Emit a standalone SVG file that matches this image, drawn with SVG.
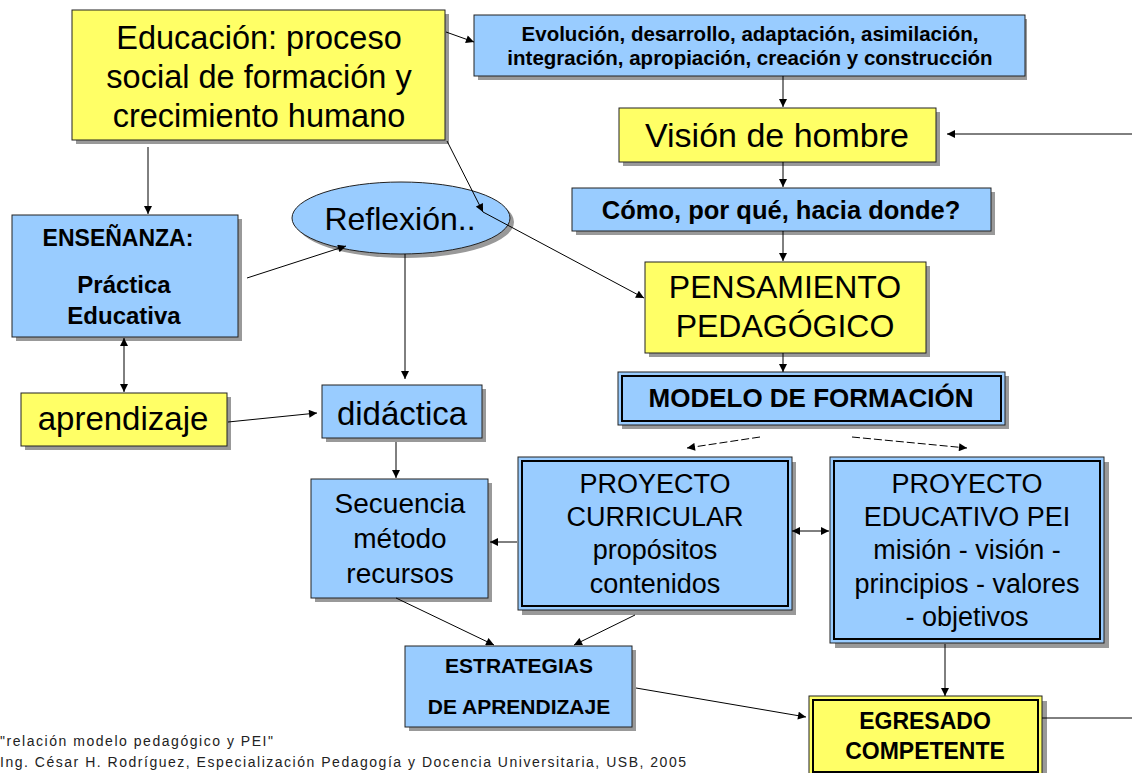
<svg xmlns="http://www.w3.org/2000/svg" width="1132" height="773" viewBox="0 0 1132 773">
<defs>
<style>
.blue{fill:#99CCFF;stroke:#222;stroke-width:1}
.yel{fill:#FFFF66;stroke:#222;stroke-width:1}
.sh{fill:#999}
.inner{fill:none;stroke:#000;stroke-width:2}
.t{font-family:"Liberation Sans",Arial,sans-serif;text-anchor:middle;fill:#000}
.b{font-weight:bold}
.c{stroke:#000;stroke-width:1;fill:none}
.d{stroke-dasharray:8 3}
.foot{font-family:"Liberation Sans",Arial,sans-serif;font-size:14px;fill:#222}
</style>
<marker id="ah" viewBox="0 0 10 10" refX="10" refY="5" markerWidth="9" markerHeight="8" markerUnits="userSpaceOnUse" orient="auto-start-reverse">
<path d="M0,0 L10,5 L0,10 z" fill="#000"/>
</marker>
</defs>
<rect width="1132" height="773" fill="#fff"/>

<g id="educacion">
<rect class="sh" x="76" y="14" width="373" height="130"/>
<rect class="yel" x="72" y="10" width="373" height="130"/>
<text class="t" font-size="32.5" x="259" y="49">Educación: proceso</text>
<text class="t" font-size="32.5" x="259" y="88">social de formación y</text>
<text class="t" font-size="32.5" x="259" y="127">crecimiento humano</text>
</g>

<g id="evolucion">
<rect class="sh" x="478" y="19" width="549" height="61"/>
<rect class="blue" x="474" y="15" width="551" height="61"/>
<text class="t b" font-size="20.5" x="750" y="41">Evolución, desarrollo, adaptación, asimilación,</text>
<text class="t b" font-size="20.5" x="750" y="65">integración, apropiación, creación y construcción</text>
</g>

<g id="vision">
<rect class="sh" x="623" y="112" width="317" height="54"/>
<rect class="yel" x="619" y="108" width="317" height="54"/>
<text class="t" font-size="34" x="777" y="147">Visión de hombre</text>
</g>

<g id="como">
<rect class="sh" x="576" y="192" width="419" height="43"/>
<rect class="blue" x="572" y="188" width="419" height="43"/>
<text class="t b" font-size="25.5" x="781" y="219">Cómo, por qué, hacia donde?</text>
</g>

<g id="pensamiento">
<rect class="sh" x="649" y="266" width="281" height="91"/>
<rect class="yel" x="645" y="262" width="281" height="91"/>
<text class="t" font-size="32" x="785" y="298">PENSAMIENTO</text>
<text class="t" font-size="32" x="785" y="337">PEDAGÓGICO</text>
</g>

<g id="modelo">
<rect class="sh" x="622" y="376" width="387" height="53"/>
<rect class="blue" x="618" y="372" width="387" height="53"/>
<rect class="inner" x="622" y="376" width="379" height="45"/>
<text class="t b" font-size="26" x="811" y="407">MODELO DE FORMACIÓN</text>
</g>

<g id="curricular">
<rect class="sh" x="522" y="462" width="274" height="153"/>
<rect class="blue" x="518" y="457" width="274" height="153"/>
<rect class="inner" x="522" y="461" width="266" height="145"/>
<text class="t" font-size="27" x="655" y="493">PROYECTO</text>
<text class="t" font-size="27" x="655" y="526">CURRICULAR</text>
<text class="t" font-size="27" x="655" y="559">propósitos</text>
<text class="t" font-size="27" x="655" y="593">contenidos</text>
</g>

<g id="pei">
<rect class="sh" x="835" y="462" width="274" height="186"/>
<rect class="blue" x="830" y="457" width="274" height="186"/>
<rect class="inner" x="834" y="461" width="266" height="178"/>
<text class="t" font-size="27" x="967" y="493">PROYECTO</text>
<text class="t" font-size="27" x="967" y="526">EDUCATIVO PEI</text>
<text class="t" font-size="27" x="967" y="559">misión - visión -</text>
<text class="t" font-size="27" x="967" y="593">principios - valores</text>
<text class="t" font-size="27" x="967" y="626">- objetivos</text>
</g>

<g id="egresado">
<rect class="sh" x="814" y="701" width="233" height="80"/>
<rect class="yel" x="809" y="696" width="233" height="80"/>
<rect class="inner" x="813" y="700" width="225" height="72"/>
<text class="t b" font-size="23" x="925" y="729">EGRESADO</text>
<text class="t b" font-size="23" x="925" y="759">COMPETENTE</text>
</g>

<g id="estrategias">
<rect class="sh" x="409" y="650" width="227" height="81"/>
<rect class="blue" x="405" y="646" width="227" height="81"/>
<text class="t b" font-size="21" x="519" y="673">ESTRATEGIAS</text>
<text class="t b" font-size="21" x="519" y="714">DE APRENDIZAJE</text>
</g>

<g id="secuencia">
<rect class="sh" x="315" y="483" width="177" height="119"/>
<rect class="blue" x="311" y="479" width="177" height="119"/>
<text class="t" font-size="28" x="400" y="513">Secuencia</text>
<text class="t" font-size="28" x="400" y="548">método</text>
<text class="t" font-size="28" x="400" y="583">recursos</text>
</g>

<g id="didactica">
<rect class="sh" x="326" y="389" width="160" height="53"/>
<rect class="blue" x="322" y="385" width="160" height="53"/>
<text class="t" font-size="33" x="402" y="425">didáctica</text>
</g>

<g id="aprendizaje">
<rect class="sh" x="25" y="397" width="206" height="53"/>
<rect class="yel" x="21" y="393" width="206" height="53"/>
<text class="t" font-size="33" x="123" y="430">aprendizaje</text>
</g>

<g id="ensenanza">
<rect class="sh" x="16" y="219" width="226" height="122"/>
<rect class="blue" x="12" y="215" width="226" height="122"/>
<text class="t b" font-size="23" x="118" y="246">ENSEÑANZA:</text>
<text class="t b" font-size="24" x="124" y="293">Práctica</text>
<text class="t b" font-size="24" x="124" y="324">Educativa</text>
</g>

<g id="reflexion">
<ellipse class="sh" cx="405" cy="222" rx="109" ry="36"/>
<ellipse class="blue" cx="401" cy="218" rx="109" ry="36"/>
<text class="t" font-size="32" x="400" y="230">Reflexión..</text>
</g>

<g id="connectors">
<line class="c" x1="446" y1="32" x2="474" y2="42" marker-end="url(#ah)"/>
<line class="c" x1="148" y1="147" x2="148" y2="214" marker-end="url(#ah)"/>
<line class="c" x1="447" y1="141" x2="483" y2="212" marker-end="url(#ah)"/>
<line class="c" x1="483" y1="212" x2="644" y2="298" marker-end="url(#ah)"/>
<line class="c" x1="247" y1="278" x2="346" y2="246" marker-end="url(#ah)"/>
<line class="c" x1="405" y1="254" x2="405" y2="379" marker-end="url(#ah)"/>
<line class="c" x1="124" y1="338" x2="124" y2="392" marker-start="url(#ah)" marker-end="url(#ah)"/>
<line class="c" x1="228" y1="422" x2="317" y2="413" marker-end="url(#ah)"/>
<line class="c" x1="396" y1="442" x2="396" y2="478" marker-end="url(#ah)"/>
<line class="c" x1="517" y1="542" x2="490" y2="542" marker-end="url(#ah)"/>
<line class="c" x1="396" y1="598" x2="494" y2="645" marker-end="url(#ah)"/>
<line class="c" x1="635" y1="615" x2="574" y2="645" marker-end="url(#ah)"/>
<line class="c" x1="636" y1="688" x2="806" y2="717" marker-end="url(#ah)"/>
<line class="c" x1="792" y1="531" x2="829" y2="531" marker-start="url(#ah)" marker-end="url(#ah)"/>
<line class="c d" x1="760" y1="437" x2="687" y2="448" marker-end="url(#ah)"/>
<line class="c d" x1="852" y1="437" x2="967" y2="448" marker-end="url(#ah)"/>
<line class="c" x1="945" y1="644" x2="945" y2="696" marker-end="url(#ah)"/>
<line class="c" x1="1042" y1="718" x2="1132" y2="718"/>
<line class="c" x1="1132" y1="134" x2="947" y2="134" marker-end="url(#ah)"/>
<line class="c" x1="783" y1="76" x2="783" y2="107" marker-end="url(#ah)"/>
<line class="c" x1="783" y1="162" x2="783" y2="187" marker-end="url(#ah)"/>
<line class="c" x1="783" y1="231" x2="783" y2="261" marker-end="url(#ah)"/>
<line class="c" x1="783" y1="353" x2="783" y2="372" marker-end="url(#ah)"/>
</g>

<g id="footer">
<text class="foot" x="0" y="746" textLength="273" lengthAdjust="spacing">"relación modelo pedagógico y PEI"</text>
<text class="foot" x="0" y="767" textLength="686" lengthAdjust="spacing">Ing. César H. Rodríguez, Especialización Pedagogía y Docencia Universitaria, USB, 2005</text>
</g>
</svg>
